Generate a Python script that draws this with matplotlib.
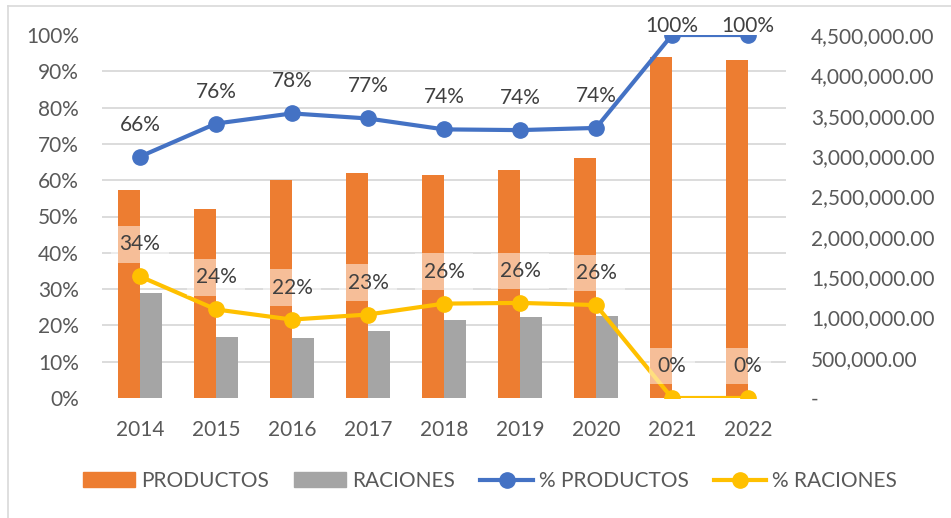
import matplotlib
matplotlib.use("Agg")
import matplotlib.pyplot as plt
import numpy as np
from matplotlib.lines import Line2D
from matplotlib.patches import Patch

years = ["2014", "2015", "2016", "2017", "2018", "2019", "2020", "2021", "2022"]
productos = [2579000, 2343000, 2699000, 2789000, 2765000, 2826000, 2979000, 4224000, 4186000]
raciones = [1302000, 756000, 744000, 831000, 971000, 1000000, 1020000, 0, 0]
pct_productos = [0.665, 0.756, 0.784, 0.770, 0.740, 0.738, 0.744, 1.0, 1.0]
pct_raciones = [0.335, 0.244, 0.216, 0.230, 0.260, 0.262, 0.256, 0.0, 0.0]
left_ticks = [0, 0.1, 0.2, 0.3, 0.4, 0.5, 0.6, 0.7, 0.8, 0.9, 1.0]
right_ticks = [0, 500000, 1000000, 1500000, 2000000, 2500000, 3000000, 3500000, 4000000, 4500000]

ORANGE = "#ED7D31"
GRAY = "#A5A5A5"
BLUE = "#4472C4"
YELLOW = "#FFC000"
GRID = "#D9D9D9"
TICK = "#595959"
LABEL = "#404040"
FONT = "Lato"
FS = 15

plt.rcParams["font.family"] = [FONT, "DejaVu Sans"]

W, H = 951, 518
fig = plt.figure(figsize=(W / 100, H / 100), dpi=100)
fig.patch.set_facecolor("white")

# chart border (top and left visible)
fig.add_artist(Line2D([8 / W, 8 / W], [0, 1 - 6 / H], color=GRID, lw=1.2))
fig.add_artist(Line2D([8 / W, 1], [1 - 6 / H, 1 - 6 / H], color=GRID, lw=1.2))

ax_left, ax_right_px, ax_top, ax_bot = 102, 786, 35, 398
rect = [ax_left / W, 1 - ax_bot / H, (ax_right_px - ax_left) / W, (ax_bot - ax_top) / H]

axb = fig.add_axes(rect)  # bars, secondary (right) scale
axl = axb.twinx()         # lines, primary (left) percent scale

x = np.arange(len(years))
bw = 0.29
axb.bar(x - bw / 2, productos, width=bw, color=ORANGE, zorder=2)
axb.bar(x + bw / 2, raciones, width=bw, color=GRAY, zorder=2)
axb.set_ylim(0, right_ticks[-1])
axb.set_xlim(-0.5, len(years) - 0.5)
axb.yaxis.tick_right()
axb.yaxis.set_label_position("right")
axb.set_yticks(right_ticks)
axb.set_yticklabels([("-" if v == 0 else f"{v:,.2f}") for v in right_ticks],
                    fontsize=FS, color=TICK, ha="left")
axb.set_yticks(np.linspace(0, right_ticks[-1], len(left_ticks)), minor=True)
axb.yaxis.grid(True, which="minor", color=GRID, lw=1.3, zorder=0)
axb.yaxis.grid(False, which="major")
axb.set_axisbelow(True)
axb.tick_params(axis="y", which="both", length=0, pad=18, left=False, labelleft=False,
                right=True, labelright=True)
axb.set_xticks(x)
axb.set_xticklabels(years, fontsize=FS, color=TICK)
axb.tick_params(axis="x", length=0, pad=16)
for s in axb.spines.values():
    s.set_visible(False)

axl.yaxis.tick_left()
axl.set_ylim(0, 1)
axl.set_yticks(left_ticks)
axl.set_yticklabels([f"{int(round(v * 100))}%" for v in left_ticks], fontsize=FS, color=TICK)
axl.tick_params(axis="y", length=0, pad=16.5, left=True, labelleft=True, right=False, labelright=False)
for s in axl.spines.values():
    s.set_visible(False)
axl.plot(x, pct_productos, color=BLUE, lw=3, marker="o", ms=11, zorder=3)
axl.plot(x, pct_raciones, color=YELLOW, lw=3, marker="o", ms=11, zorder=3)

axes_h_px = ax_bot - ax_top
def label_offset(v):
    # pixels available above marker, clamped so label stays inside chart
    space = (1 - v) * axes_h_px + ax_top - 26
    return min(32, space) * 0.72

bbox = dict(boxstyle="square,pad=0.4", fc="white", ec="none", alpha=0.5)
for xi, v in zip(x, pct_productos):
    axl.annotate(f"{v:.0%}", (xi, v), xytext=(0, label_offset(v)), textcoords="offset points",
                 ha="center", va="center", fontsize=FS, color=LABEL, zorder=5,
                 annotation_clip=False)
for xi, v in zip(x, pct_raciones):
    axl.annotate(f"{v:.0%}", (xi, v), xytext=(0, label_offset(v)), textcoords="offset points",
                 ha="center", va="center", fontsize=FS, color=LABEL, bbox=bbox, zorder=5,
                 annotation_clip=False)

handles = [
    Patch(color=ORANGE, label="PRODUCTOS"),
    Patch(color=GRAY, label="RACIONES"),
    Line2D([], [], color=BLUE, lw=3, marker="o", ms=11, label="% PRODUCTOS"),
    Line2D([], [], color=YELLOW, lw=3, marker="o", ms=11, label="% RACIONES"),
]
leg = fig.legend(handles=handles, loc="center", bbox_to_anchor=(490 / W, 1 - 481 / H), ncol=4,
                 frameon=False, fontsize=FS, handlelength=2.5, handleheight=0.7,
                 handletextpad=0.3, columnspacing=1.2, labelcolor=TICK)

fig.savefig("out.png", dpi=100, facecolor="white")
